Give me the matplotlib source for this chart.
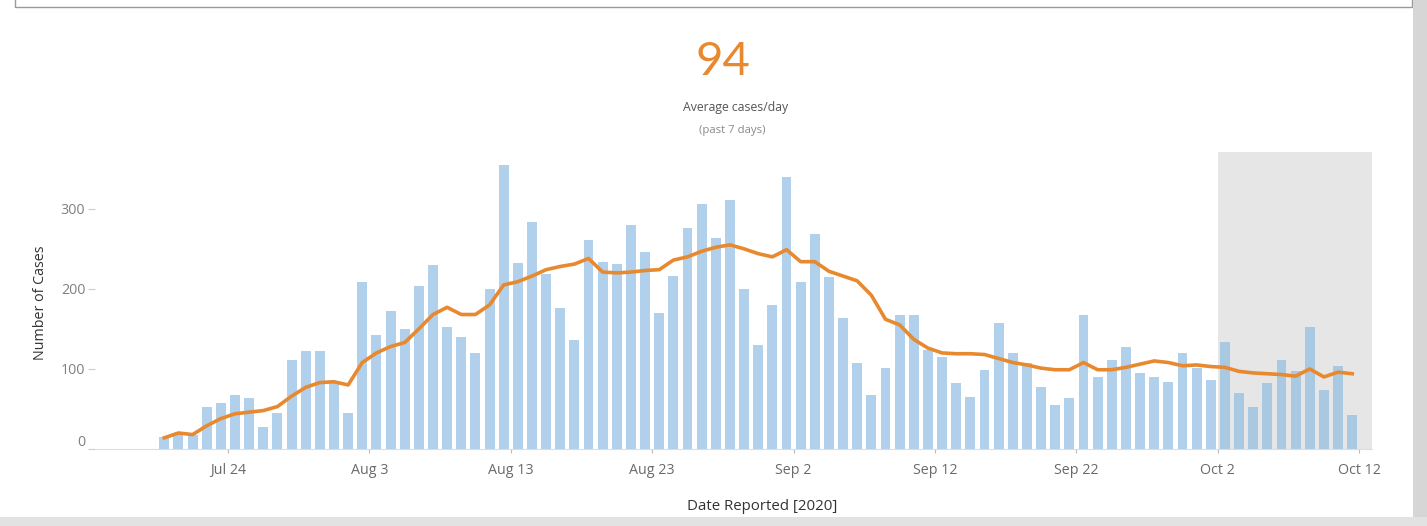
import matplotlib
matplotlib.use('Agg')
import matplotlib.pyplot as plt
import matplotlib.dates as mdates
import matplotlib.transforms as mtransforms
from matplotlib.patches import Rectangle
import pandas as pd

# daily reported cases, Jul 19 .. Oct 11 2020
cases = [15, 20, 17, 53, 57, 67, 64, 28, 45, 111, 123, 122, 84,
         45, 208, 143, 172, 150, 203, 230, 152, 140, 120, 200, 355, 232, 284, 219, 176, 136,
         261, 234, 231, 280, 246, 170, 216, 276, 306, 263, 311, 200, 130, 180,
         340, 209, 268, 215, 164, 107, 67, 101, 168, 167, 124, 115, 82, 65, 99, 157,
         120, 107, 78, 55, 64, 168, 90, 111, 127, 95, 90, 84, 120, 101,
         86, 134, 70, 53, 83, 111, 98, 153, 74, 104, 43]
# 7 day average line as drawn
avg7 = [14, 20, 18, 29, 38, 44, 46, 48, 53, 66, 77, 83, 84,
        80, 108, 120, 128, 133, 150, 168, 177, 168, 168, 180, 205, 209, 216, 224, 228, 231,
        238, 221, 220, 221, 223, 224, 236, 240, 247, 252, 255, 250, 244, 240,
        249, 234, 234, 222, 216, 210, 192, 162, 155, 137, 126, 120, 119, 119, 118, 113,
        108, 105, 101, 99, 99, 108, 99, 99, 102, 106, 110, 108, 104, 105,
        103, 102, 97, 95, 94, 93, 91, 100, 90, 96, 94]
dates = pd.date_range('2020-07-19', periods=len(cases), freq='D')

tick_dates = ['2020-07-24', '2020-08-03', '2020-08-13', '2020-08-23', '2020-09-02',
              '2020-09-12', '2020-09-22', '2020-10-02', '2020-10-12']
tick_labels = ['Jul 24', 'Aug 3', 'Aug 13', 'Aug 23', 'Sep 2', 'Sep 12', 'Sep 22', 'Oct 2', 'Oct 12']
highlight_start = '2020-10-02'
headline = '94'

plt.rcParams['font.family'] = ['Open Sans', 'DejaVu Sans']

fig = plt.figure(figsize=(14.27, 5.26), dpi=100)
ax = fig.add_axes([95/1427, 77/526, 1277/1427, 297/526])

x = mdates.date2num(dates) + 0.5
tx = mdates.date2num(pd.to_datetime(tick_dates))
xmin = tx[0] - 9.4
xmax = tx[-1] + 0.9

ax.axvspan(mdates.date2num(pd.Timestamp(highlight_start)), xmax, color='#e6e6e6', lw=0, zorder=0)
ax.bar(x, cases, width=0.7, color='#8fbde3', alpha=0.7, lw=0, zorder=2)
ax.plot(x, avg7, color='#e8892f', lw=2.6, zorder=3, solid_joinstyle='round')

ax.set_xlim(xmin, xmax)
ax.set_ylim(0, 371)
ax.set_xticks(tx)
ax.set_xticklabels(tick_labels)
ax.set_yticks([0, 100, 200, 300])

for s in ['top', 'right', 'left']:
    ax.spines[s].set_visible(False)
ax.spines['bottom'].set_color('#dddddd')
ax.spines['bottom'].set_linewidth(0.8)

ax.tick_params(axis='x', length=3, width=0.8, color='#bbbbbb', pad=7, labelsize=10.3, labelcolor='#6a6a6a')
ax.tick_params(axis='y', length=5, width=0.8, color='#cccccc', pad=2, labelsize=10.3, labelcolor='#808080')

# zero label sits a little above its tick
off = mtransforms.ScaledTranslation(0, 0.09, fig.dpi_scale_trans)
lab0 = ax.get_yticklabels()[0]
lab0.set_transform(lab0.get_transform() + off)

ax.set_xlabel('Date Reported [2020]', fontsize=10.8, color='#333333')
ax.xaxis.set_label_coords((762-95)/1277, -(507-449)/297)
ax.xaxis.label.set_va('center')
ax.set_ylabel('Number of Cases', fontsize=10.3, color='#333333')
ax.yaxis.set_label_coords(-(95-40)/1277, (449-303)/297)
ax.yaxis.label.set_va('center')

fig.text(723/1427, 1-62/526, headline, fontsize=34, color='#e8892f', ha='center', va='center',
         family=['Lato', 'DejaVu Sans'])
fig.text(736/1427, 1-107/526, 'Average cases/day', fontsize=8.8, color='#555555', ha='center', va='center')
fig.text(732/1427, 1-131/526, '(past 7 days)', fontsize=8.2, color='#8a8a8a', ha='center', va='center')

# dashboard frame pieces
fig.add_artist(Rectangle((15/1427, 1-7/526), 1397/1427, 0.05, transform=fig.transFigure,
                         fill=False, edgecolor='#9a9a9a', lw=1.0, clip_on=False))
fig.add_artist(Rectangle((1413/1427, 0), 14/1427, 1, transform=fig.transFigure,
                         facecolor='#d6d6d6', lw=0))
fig.add_artist(Rectangle((0, 0), 1, 9/526, transform=fig.transFigure,
                         facecolor='#e2e2e2', lw=0))

fig.savefig('out.png', dpi=100)
